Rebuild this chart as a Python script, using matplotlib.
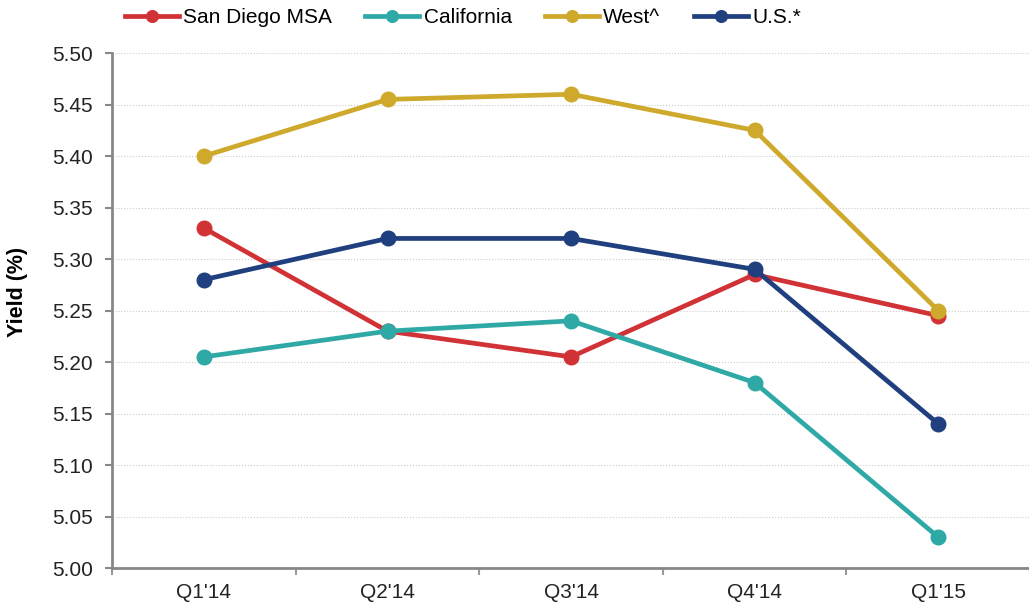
import numpy as np
import matplotlib.pyplot as plt
from matplotlib.ticker import FixedLocator

plt.rcParams['font.family'] = ['Liberation Sans', 'DejaVu Sans']

quarters = ["Q1'14", "Q2'14", "Q3'14", "Q4'14", "Q1'15"]
san_diego = [5.33, 5.23, 5.205, 5.285, 5.245]
california = [5.205, 5.23, 5.24, 5.18, 5.03]
west = [5.40, 5.455, 5.46, 5.425, 5.25]
us = [5.28, 5.32, 5.32, 5.29, 5.14]

series = [
    ("San Diego MSA", san_diego, "#d13236"),
    ("California", california, "#2fa9a6"),
    ("U.S.*", us, "#1f3f7e"),
    ("West^", west, "#cfa92c"),
]

fig = plt.figure(figsize=(10.29, 6.03), dpi=100)
ax = fig.add_axes([0.109, 0.058, 0.892, 0.854])

x = np.arange(len(quarters))
handles = {}
for name, vals, col in series:
    h, = ax.plot(x, vals, color=col, lw=3.4, marker='o', ms=10.5, label=name)
    handles[name] = h

ax.set_xlim(-0.5, 4.5)
ax.set_ylim(5.0, 5.5)
ax.set_yticks(np.arange(5.0, 5.501, 0.05))
ax.set_yticklabels([f"{v:.2f}" for v in np.arange(5.0, 5.501, 0.05)])
ax.set_xticks(x)
ax.set_xticklabels(quarters)
ax.xaxis.set_minor_locator(FixedLocator(np.arange(-0.5, 4.6, 1)))
ax.tick_params(axis='x', which='major', length=0, pad=11, labelsize=15, colors='#222222')
ax.tick_params(axis='x', which='minor', length=5, width=1.5, color='#999999', direction='out')
ax.tick_params(axis='y', length=5, width=1.5, color='#888888', labelsize=15, pad=9, labelcolor='#222222')

ax.grid(axis='y', color='#cccccc', ls=':', lw=0.8)
ax.set_axisbelow(True)
for s in ['top', 'right']:
    ax.spines[s].set_visible(False)
for s in ['left', 'bottom']:
    ax.spines[s].set_color('#888888')
    ax.spines[s].set_linewidth(2)

ax.set_ylabel("Yield (%)", fontsize=15.5, fontweight='bold')
ax.yaxis.set_label_coords(-0.0915, 0.536)

order = ["San Diego MSA", "California", "West^", "U.S.*"]
fig.legend([handles[n] for n in order], order, loc='upper left',
           bbox_to_anchor=(0.103, 1.018), ncol=4, frameon=False, fontsize=15,
           handlelength=2.6, handletextpad=0.2, columnspacing=1.6, markerscale=0.8)

fig.savefig("out.png", dpi=100)
